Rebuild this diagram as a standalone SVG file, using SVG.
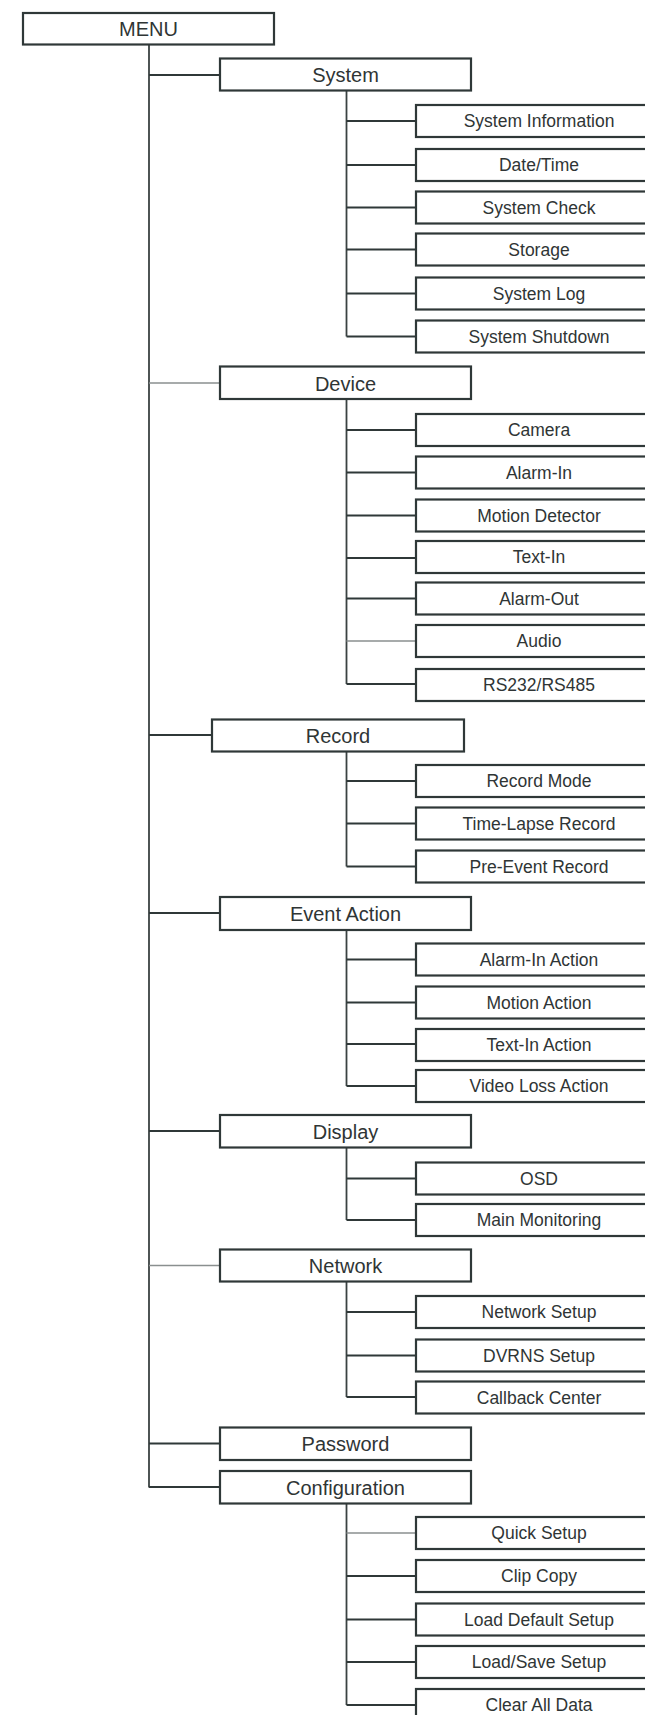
<svg xmlns="http://www.w3.org/2000/svg" width="645" height="1715" viewBox="0 0 645 1715">
<style>
.box{fill:#fff;stroke:#2f3838;stroke-width:2.2}
.ln{stroke:#2f3838;stroke-width:2.2;fill:none}
.vl{stroke:#3a4242;stroke-width:1.8;fill:none}
.thin{stroke:#8a8f8f;stroke-width:1.3;fill:none}
text{font-family:"Liberation Sans",Arial,sans-serif;fill:#2f3535;text-anchor:middle}
.m{font-size:20px}
.s{font-size:17.5px}
</style>
<rect width="645" height="1715" fill="#fff"/>
<g id="connectors">
<line class="vl" x1="149" y1="44" x2="149" y2="1487.5"/>
<line class="ln" x1="149" y1="75" x2="220" y2="75"/>
<line class="thin" x1="149" y1="383" x2="220" y2="383"/>
<line class="ln" x1="149" y1="735" x2="212" y2="735"/>
<line class="ln" x1="149" y1="913" x2="220" y2="913"/>
<line class="ln" x1="149" y1="1131" x2="220" y2="1131"/>
<line class="thin" x1="149" y1="1265.5" x2="220" y2="1265.5"/>
<line class="ln" x1="149" y1="1443.5" x2="220" y2="1443.5"/>
<line class="ln" x1="149" y1="1487" x2="220" y2="1487"/>
<line class="vl" x1="346.5" y1="91" x2="346.5" y2="336.5"/>
<line class="ln" x1="346.5" y1="121" x2="416" y2="121"/>
<line class="ln" x1="346.5" y1="165" x2="416" y2="165"/>
<line class="ln" x1="346.5" y1="207.5" x2="416" y2="207.5"/>
<line class="ln" x1="346.5" y1="249.5" x2="416" y2="249.5"/>
<line class="ln" x1="346.5" y1="293.5" x2="416" y2="293.5"/>
<line class="ln" x1="346.5" y1="336.5" x2="416" y2="336.5"/>
<line class="vl" x1="346.5" y1="399" x2="346.5" y2="684"/>
<line class="ln" x1="346.5" y1="430" x2="416" y2="430"/>
<line class="ln" x1="346.5" y1="472.5" x2="416" y2="472.5"/>
<line class="ln" x1="346.5" y1="515.5" x2="416" y2="515.5"/>
<line class="ln" x1="346.5" y1="558" x2="416" y2="558"/>
<line class="ln" x1="346.5" y1="598.5" x2="416" y2="598.5"/>
<line class="thin" x1="346.5" y1="641" x2="416" y2="641"/>
<line class="ln" x1="346.5" y1="684" x2="416" y2="684"/>
<line class="vl" x1="346.5" y1="752" x2="346.5" y2="866.5"/>
<line class="ln" x1="346.5" y1="781" x2="416" y2="781"/>
<line class="ln" x1="346.5" y1="823.5" x2="416" y2="823.5"/>
<line class="ln" x1="346.5" y1="866.5" x2="416" y2="866.5"/>
<line class="vl" x1="346.5" y1="930" x2="346.5" y2="1086"/>
<line class="ln" x1="346.5" y1="959.5" x2="416" y2="959.5"/>
<line class="ln" x1="346.5" y1="1002.5" x2="416" y2="1002.5"/>
<line class="ln" x1="346.5" y1="1044" x2="416" y2="1044"/>
<line class="ln" x1="346.5" y1="1086" x2="416" y2="1086"/>
<line class="vl" x1="346.5" y1="1148" x2="346.5" y2="1220"/>
<line class="ln" x1="346.5" y1="1178.5" x2="416" y2="1178.5"/>
<line class="ln" x1="346.5" y1="1220" x2="416" y2="1220"/>
<line class="vl" x1="346.5" y1="1282" x2="346.5" y2="1397"/>
<line class="ln" x1="346.5" y1="1312" x2="416" y2="1312"/>
<line class="ln" x1="346.5" y1="1355.5" x2="416" y2="1355.5"/>
<line class="ln" x1="346.5" y1="1397" x2="416" y2="1397"/>
<line class="vl" x1="346.5" y1="1503.5" x2="346.5" y2="1705"/>
<line class="thin" x1="346.5" y1="1533" x2="416" y2="1533"/>
<line class="ln" x1="346.5" y1="1576" x2="416" y2="1576"/>
<line class="ln" x1="346.5" y1="1619.5" x2="416" y2="1619.5"/>
<line class="ln" x1="346.5" y1="1662" x2="416" y2="1662"/>
<line class="ln" x1="346.5" y1="1705" x2="416" y2="1705"/>
</g>
<g id="menu"><rect class="box" x="23" y="13" width="251" height="31.5"/><text class="m" x="148.5" y="36">MENU</text></g>
<g id="system"><rect class="box" x="220" y="58.5" width="251" height="32"/><text class="m" x="345.5" y="82">System</text></g>
<g id="system-information"><rect class="box" x="416" y="105" width="250" height="32"/><text class="s" x="539" y="127">System Information</text></g>
<g id="date-time"><rect class="box" x="416" y="149" width="250" height="32"/><text class="s" x="539" y="171">Date/Time</text></g>
<g id="system-check"><rect class="box" x="416" y="191.5" width="250" height="32"/><text class="s" x="539" y="213.5">System Check</text></g>
<g id="storage"><rect class="box" x="416" y="233.5" width="250" height="32"/><text class="s" x="539" y="255.5">Storage</text></g>
<g id="system-log"><rect class="box" x="416" y="277.5" width="250" height="32"/><text class="s" x="539" y="299.5">System Log</text></g>
<g id="system-shutdown"><rect class="box" x="416" y="320.5" width="250" height="32"/><text class="s" x="539" y="342.5">System Shutdown</text></g>
<g id="device"><rect class="box" x="220" y="366.5" width="251" height="32.5"/><text class="m" x="345.5" y="390.5">Device</text></g>
<g id="camera"><rect class="box" x="416" y="414" width="250" height="32"/><text class="s" x="539" y="436">Camera</text></g>
<g id="alarm-in"><rect class="box" x="416" y="456.5" width="250" height="32"/><text class="s" x="539" y="478.5">Alarm-In</text></g>
<g id="motion-detector"><rect class="box" x="416" y="499.5" width="250" height="32"/><text class="s" x="539" y="521.5">Motion Detector</text></g>
<g id="text-in"><rect class="box" x="416" y="541" width="250" height="32"/><text class="s" x="539" y="563">Text-In</text></g>
<g id="alarm-out"><rect class="box" x="416" y="582.5" width="250" height="32"/><text class="s" x="539" y="604.5">Alarm-Out</text></g>
<g id="audio"><rect class="box" x="416" y="625" width="250" height="32"/><text class="s" x="539" y="647">Audio</text></g>
<g id="rs232-rs485"><rect class="box" x="416" y="669" width="250" height="32"/><text class="s" x="539" y="691">RS232/RS485</text></g>
<g id="record"><rect class="box" x="212" y="719.5" width="252" height="32"/><text class="m" x="338" y="743">Record</text></g>
<g id="record-mode"><rect class="box" x="416" y="765" width="250" height="32"/><text class="s" x="539" y="787">Record Mode</text></g>
<g id="time-lapse-record"><rect class="box" x="416" y="807.5" width="250" height="32"/><text class="s" x="539" y="829.5">Time-Lapse Record</text></g>
<g id="pre-event-record"><rect class="box" x="416" y="850.5" width="250" height="32"/><text class="s" x="539" y="872.5">Pre-Event Record</text></g>
<g id="event-action"><rect class="box" x="220" y="897" width="251" height="33"/><text class="m" x="345.5" y="921">Event Action</text></g>
<g id="alarm-in-action"><rect class="box" x="416" y="943.5" width="250" height="32"/><text class="s" x="539" y="965.5">Alarm-In Action</text></g>
<g id="motion-action"><rect class="box" x="416" y="986.5" width="250" height="32"/><text class="s" x="539" y="1008.5">Motion Action</text></g>
<g id="text-in-action"><rect class="box" x="416" y="1029" width="250" height="32"/><text class="s" x="539" y="1051">Text-In Action</text></g>
<g id="video-loss-action"><rect class="box" x="416" y="1070" width="250" height="32"/><text class="s" x="539" y="1092">Video Loss Action</text></g>
<g id="display"><rect class="box" x="220" y="1115" width="251" height="32.5"/><text class="m" x="345.5" y="1139">Display</text></g>
<g id="osd"><rect class="box" x="416" y="1162.5" width="250" height="32"/><text class="s" x="539" y="1184.5">OSD</text></g>
<g id="main-monitoring"><rect class="box" x="416" y="1204" width="250" height="32"/><text class="s" x="539" y="1226">Main Monitoring</text></g>
<g id="network"><rect class="box" x="220" y="1249.5" width="251" height="32"/><text class="m" x="345.5" y="1273">Network</text></g>
<g id="network-setup"><rect class="box" x="416" y="1296" width="250" height="32"/><text class="s" x="539" y="1318">Network Setup</text></g>
<g id="dvrns-setup"><rect class="box" x="416" y="1339.5" width="250" height="32"/><text class="s" x="539" y="1361.5">DVRNS Setup</text></g>
<g id="callback-center"><rect class="box" x="416" y="1381.5" width="250" height="32"/><text class="s" x="539" y="1403.5">Callback Center</text></g>
<g id="password"><rect class="box" x="220" y="1427.5" width="251" height="32.5"/><text class="m" x="345.5" y="1451">Password</text></g>
<g id="configuration"><rect class="box" x="220" y="1471" width="251" height="32.5"/><text class="m" x="345.5" y="1495">Configuration</text></g>
<g id="quick-setup"><rect class="box" x="416" y="1517" width="250" height="32"/><text class="s" x="539" y="1539">Quick Setup</text></g>
<g id="clip-copy"><rect class="box" x="416" y="1560" width="250" height="32"/><text class="s" x="539" y="1582">Clip Copy</text></g>
<g id="load-default-setup"><rect class="box" x="416" y="1603.5" width="250" height="32"/><text class="s" x="539" y="1625.5">Load Default Setup</text></g>
<g id="load-save-setup"><rect class="box" x="416" y="1646" width="250" height="32"/><text class="s" x="539" y="1668">Load/Save Setup</text></g>
<g id="clear-all-data"><rect class="box" x="416" y="1689" width="250" height="40"/><text class="s" x="539" y="1711">Clear All Data</text></g>
</svg>
